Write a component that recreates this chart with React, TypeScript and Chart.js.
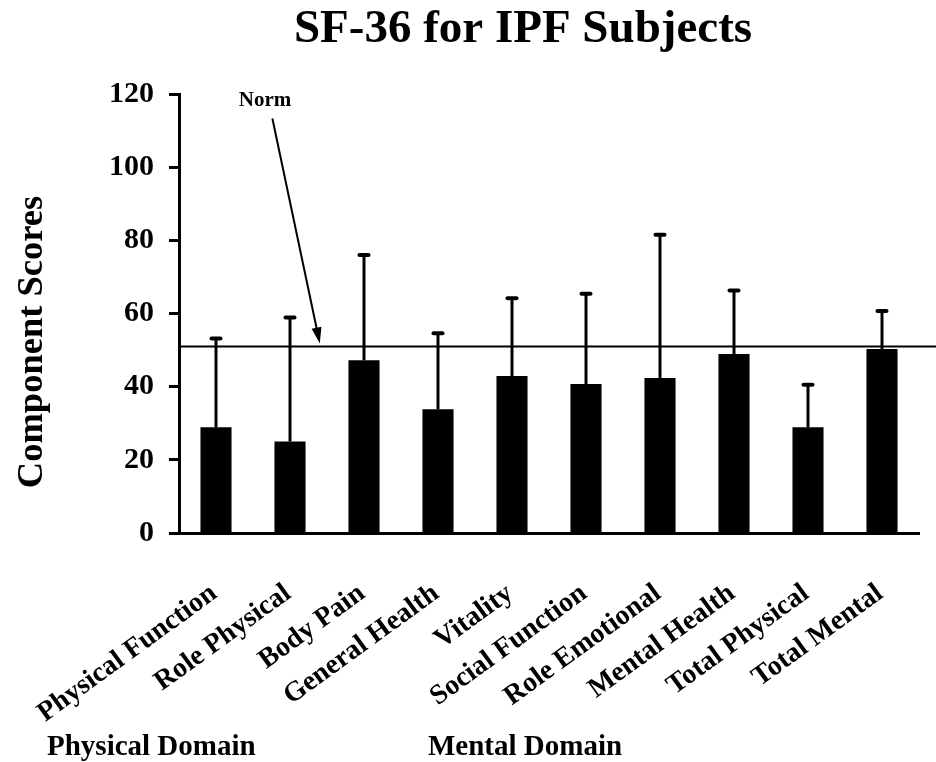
import React, { useEffect, useRef } from "react";
import { Chart, registerables } from "chart.js";

Chart.register(...registerables);

const categories = [
  "Physical Function",
  "Role Physical",
  "Body Pain",
  "General Health",
  "Vitality",
  "Social Function",
  "Role Emotional",
  "Mental Health",
  "Total Physical",
  "Total Mental",
];
const meanScores = [28.9, 25.0, 47.2, 33.8, 42.9, 40.7, 42.4, 48.9, 28.9, 50.3];
const sdScores = [24.3, 33.9, 28.8, 20.8, 21.3, 24.7, 39.1, 17.4, 11.6, 10.4];
const normScore = 51;
const yTicks = [0, 20, 40, 60, 80, 100, 120];
const titleText = "SF-36 for IPF Subjects";
const yTitleText = "Component Scores";
const domainLabels = ["Physical Domain", "Mental Domain"];
const normLabel = "Norm";

const FONT = "'Liberation Serif', 'Times New Roman', Times, serif";

const overlayPlugin = {
  id: "overlay",
  afterDatasetsDraw(chart: any) {
    const { ctx, chartArea } = chart;
    const x = chart.scales.x;
    const y = chart.scales.y;
    const meta = chart.getDatasetMeta(0);
    ctx.save();
    ctx.strokeStyle = "#000";
    ctx.fillStyle = "#000";
    // error bars (upper only)
    meta.data.forEach((bar: any, i: number) => {
      const top = y.getPixelForValue(meanScores[i] + sdScores[i]);
      ctx.lineWidth = 3;
      ctx.lineCap = "butt";
      ctx.beginPath();
      ctx.moveTo(bar.x, bar.y);
      ctx.lineTo(bar.x, top);
      ctx.stroke();
      ctx.lineWidth = 4;
      ctx.lineCap = "round";
      ctx.beginPath();
      ctx.moveTo(bar.x - 4.5, top);
      ctx.lineTo(bar.x + 4.5, top);
      ctx.stroke();
    });
    // norm line
    const ny = y.getPixelForValue(normScore);
    ctx.lineWidth = 2;
    ctx.lineCap = "butt";
    ctx.beginPath();
    ctx.moveTo(chartArea.left + 2, ny);
    ctx.lineTo(chart.width, ny);
    ctx.stroke();
    // arrow
    const sx = x.getPixelForValue(0.762);
    const sy = y.getPixelForValue(113.3);
    const tx = x.getPixelForValue(1.403);
    const ty = ny - 3;
    const ang = Math.atan2(ty - sy, tx - sx);
    const dx = Math.cos(ang);
    const dy = Math.sin(ang);
    const headLen = 16;
    const headHalf = 5;
    ctx.lineWidth = 2;
    ctx.beginPath();
    ctx.moveTo(sx, sy);
    ctx.lineTo(tx - dx * (headLen - 2), ty - dy * (headLen - 2));
    ctx.stroke();
    ctx.beginPath();
    ctx.moveTo(tx, ty);
    ctx.lineTo(tx - dx * headLen - dy * headHalf, ty - dy * headLen + dx * headHalf);
    ctx.lineTo(tx - dx * headLen + dy * headHalf, ty - dy * headLen - dx * headHalf);
    ctx.closePath();
    ctx.fill();
    // norm label
    ctx.font = `bold 21px ${FONT}`;
    ctx.textAlign = "center";
    ctx.textBaseline = "alphabetic";
    ctx.fillText(normLabel, x.getPixelForValue(0.663), y.getPixelForValue(116.8));
    ctx.restore();
  },
  afterDraw(chart: any) {
    const { ctx } = chart;
    ctx.save();
    ctx.fillStyle = "#000";
    ctx.textBaseline = "alphabetic";
    // title
    ctx.font = `bold 47px ${FONT}`;
    ctx.textAlign = "center";
    ctx.fillText(titleText, 523, 42);
    // domain labels
    ctx.font = `bold 29px ${FONT}`;
    ctx.textAlign = "left";
    ctx.fillText(domainLabels[0], 47, 755);
    ctx.fillText(domainLabels[1], 428, 755);
    // y title
    ctx.font = `bold 36.5px ${FONT}`;
    ctx.textAlign = "center";
    ctx.translate(42, 342);
    ctx.rotate(-Math.PI / 2);
    ctx.fillText(yTitleText, 0, 0);
    ctx.restore();
  },
};

export default function App() {
  const canvasRef = useRef<HTMLCanvasElement | null>(null);

  useEffect(() => {
    document.body.style.margin = "0";
    const canvas = canvasRef.current;
    if (!canvas) return;
    const chart = new Chart(canvas, {
      type: "bar",
      data: {
        labels: categories,
        datasets: [
          {
            data: meanScores,
            backgroundColor: "#000",
            borderWidth: 0,
            barPercentage: 0.42,
            categoryPercentage: 1,
          },
        ],
      },
      options: {
        responsive: false,
        animation: false,
        devicePixelRatio: 1,
        layout: { padding: { top: 94, right: 17, bottom: 0, left: 0 } },
        plugins: {
          legend: { display: false },
          tooltip: { enabled: false },
          title: { display: false },
        },
        scales: {
          x: {
            type: "category",
            offset: true,
            grid: { display: false, drawTicks: false },
            border: { display: true, color: "#000", width: 3 },
            ticks: {
              autoSkip: false,
              minRotation: 36,
              maxRotation: 36,
              padding: 44,
              labelOffset: -2,
              color: "#000",
              font: { family: FONT, size: 28, weight: "bold" },
            },
            afterFit: (s: any) => {
              s.height = 229;
              s.paddingLeft = 0;
              s.paddingRight = 0;
            },
          },
          y: {
            type: "linear",
            min: 0,
            max: 120,
            afterBuildTicks: (s: any) => {
              s.ticks = yTicks.map((v) => ({ value: v }));
            },
            ticks: {
              padding: 15,
              color: "#000",
              font: { family: FONT, size: 30, weight: "bold" },
            },
            grid: {
              display: true,
              drawOnChartArea: false,
              drawTicks: true,
              tickLength: 10,
              tickWidth: 3,
              tickColor: "#000",
            },
            border: { display: true, color: "#000", width: 3 },
            afterFit: (s: any) => {
              s.width = 179;
            },
          },
        },
      },
      plugins: [overlayPlugin],
    });
    return () => chart.destroy();
  }, []);

  return (
    <div style={{ width: 936, height: 762 }}>
      <canvas ref={canvasRef} width={936} height={762} style={{ width: 936, height: 762, display: "block" }} />
    </div>
  );
}
